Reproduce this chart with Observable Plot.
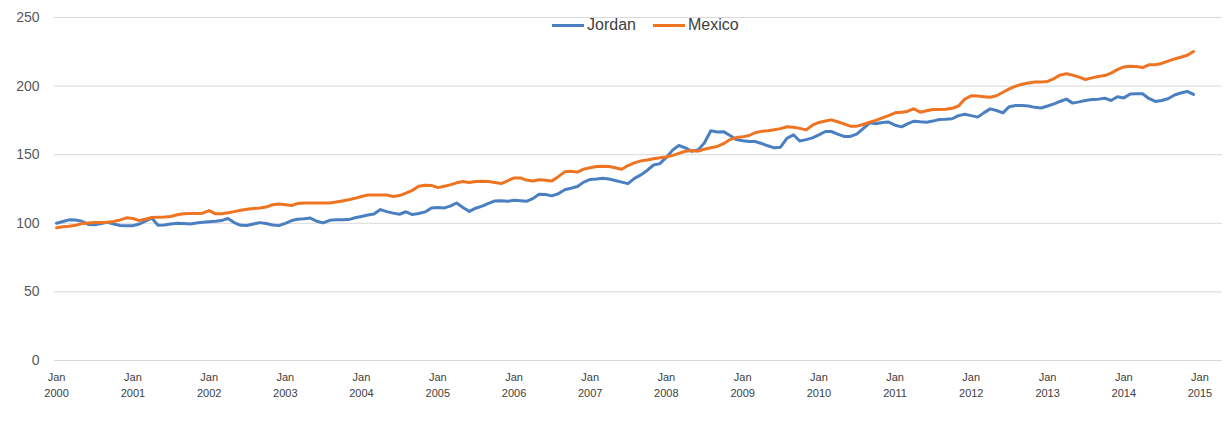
<!DOCTYPE html>
<html>
<head>
<meta charset="utf-8">
<script src="https://cdn.jsdelivr.net/npm/d3@7"></script>
<script src="https://cdn.jsdelivr.net/npm/@observablehq/plot@0.6"></script>
<style>
  html, body { margin: 0; padding: 0; background: #fff; }
  #wrap { position: relative; width: 1226px; height: 426px; font-family: "Liberation Sans", Arial, sans-serif; }
  #legend { position: absolute; top: 16px; left: 552px; display: flex; align-items: center; font-size: 16px; color: #404040; white-space: nowrap; }
  #legend .sw { display: inline-block; width: 32px; height: 3px; margin-right: 3px; }
  #legend .item { display: flex; align-items: center; margin-right: 17px; }
</style>
</head>
<body>
<div id="wrap"><div id="legend"></div></div>
<script>
// Series names and colours
const seriesNames = ["Jordan", "Mexico"];
const seriesColors = ["#4a80c2", "#ee7422"];

// Monthly values, Jan 2000 – Dec 2014
const jordan = [
  100, 101.3, 102.5, 102.4, 101.5, 99.2, 99, 99.8, 100.8, 99.5, 98.4, 98.2,
  98.3, 99.5, 101.5, 103.8, 98.6, 98.8, 99.5, 100, 99.8, 99.5, 100.2, 100.8,
  101.2, 101.5, 102, 103.5, 100.5, 98.5, 98.4, 99.5, 100.5, 99.8, 98.8, 98.3,
  100, 102, 103, 103.3, 103.8, 101.5, 100.3, 102.2, 102.5, 102.5, 102.7, 104,
  105, 106, 106.8, 110, 108.5, 107.4, 106.6, 108.4, 106.4, 107.2, 108.3, 111.2,
  111.6, 111.2, 112.5, 114.8, 111.5, 108.7, 111, 112.5, 114.5, 116.3, 116.5, 116,
  116.8, 116.5, 116, 118, 121.2, 121, 120, 121.5, 124.5, 125.5, 126.8, 130,
  132, 132.3, 132.9, 132.3, 131.2, 130, 128.9, 132.7, 135.3, 138.5, 142.5,
  143.5, 148, 153.5, 156.7, 155, 152.5, 153.5, 158.5, 167.5, 166.5, 166.8, 164,
  161, 160.2, 159.6, 159.6, 158.2, 156.5, 155, 155.5, 162, 164.5, 160, 161,
  162.3, 164.5, 166.9, 166.9, 165, 163.3, 163.3, 165, 169, 173.2, 172.5, 173.5,
  173.8, 171.5, 170.3, 172.5, 174.4, 174, 173.7, 174.5, 175.7, 175.8, 176.2, 178.5,
  179.5, 178.5, 177.4, 180.5, 183.4, 182.2, 180.5, 185, 185.9, 185.9, 185.5, 184.5,
  184, 185.5, 187, 188.8, 190.5, 187.6, 188.5, 189.5, 190.2, 190.5, 191.2, 189.5,
  192.2, 191.4, 194.2, 194.4, 194.4, 191, 188.8, 189.5, 190.8, 193.5, 195, 196.1, 193.9
];
const mexico = [
  96.7, 97.5, 97.9, 98.5, 99.8, 100.2, 100.5, 100.6, 100.8, 101.3, 102.5, 104,
  103.5, 102, 103, 104.2, 104.5, 104.6, 105, 106.2, 107, 107.2, 107.2, 107.4,
  109.3, 106.9, 107, 107.7, 108.5, 109.5, 110.3, 110.8, 111.2, 111.8, 113.5, 114.1,
  113.5, 113, 114.5, 114.8, 114.8, 114.8, 114.8, 114.8, 115.5, 116.3, 117.2, 118.2,
  119.5, 120.6, 120.6, 120.7, 120.6, 119.5, 120.2, 122, 124, 127, 127.8, 127.6,
  126, 127, 128, 129.5, 130.5, 129.7, 130.5, 130.7, 130.5, 129.8, 129, 131,
  133.1, 133.1, 131.5, 130.8, 131.8, 131.3, 130.8, 134, 137.5, 138, 137.3, 139.5,
  140.5, 141.4, 141.6, 141.4, 140.5, 139.4, 142.1, 144, 145.5, 146.2, 147,
  147.7, 148.3, 149.5, 151, 152.5, 153, 152.6, 154, 155, 156, 158, 161,
  162.5, 163, 164, 166, 167, 167.5, 168.2, 169, 170.4, 170, 169.2, 168.1,
  171.5, 173.5, 174.5, 175.4, 174, 172.5, 170.8, 170.8, 172, 173.7, 175, 176.8,
  178.5, 180.5, 181, 181.5, 183.5, 181, 182, 182.9, 183, 183.2, 183.8, 185.5,
  190.5, 193, 192.7, 192.3, 191.9, 193, 195.5, 198, 200, 201.3, 202.3, 203,
  203, 203.4, 205.5, 208, 209, 208, 206.5, 204.8, 206, 207, 207.7, 209.5,
  212, 214, 214.4, 214.3, 213.5, 215.5, 215.6, 216.5, 218.2, 219.8, 221, 222.5, 225.2
];

// Axis ticks
const yTicks = [0, 50, 100, 150, 200, 250];
const xTickYears = d3.range(2000, 2016);

const dates = jordan.map((_, i) => new Date(2000, i, 1));
const rows = [];
[jordan, mexico].forEach((vals, s) => {
  vals.forEach((v, i) => rows.push({ date: dates[i], value: v, series: seriesNames[s] }));
});

const chart = Plot.plot({
  width: 1226,
  height: 426,
  marginLeft: 54,
  marginRight: 4,
  marginTop: 17,
  marginBottom: 66,
  style: { fontFamily: "'Liberation Sans', Arial, sans-serif", background: "#fff", overflow: "visible" },
  x: { type: "time", domain: [new Date(1999, 11, 22), new Date(2015, 3, 19)] },
  y: { domain: [0, 250] },
  color: { domain: seriesNames, range: seriesColors },
  marks: [
    Plot.ruleY(yTicks, { stroke: "#d9d9d9", strokeWidth: 1 }),
    Plot.axisY({
      ticks: yTicks, tickSize: 0, tickPadding: 15, fontSize: 14, fill: "#595959", label: null,
      tickFormat: d => String(d)
    }),
    Plot.axisX({
      ticks: xTickYears.map(y => new Date(y, 0, 1)), tickSize: 0, tickPadding: 9,
      fontSize: 11, fill: "#404040", lineHeight: 1.45, label: null,
      tickFormat: d => "Jan\n" + d.getFullYear()
    }),
    Plot.line(rows, {
      x: "date", y: "value", z: "series", stroke: "series",
      strokeWidth: 3, strokeLinejoin: "round", strokeLinecap: "round"
    })
  ]
});
document.getElementById("wrap").prepend(chart);

const legend = document.getElementById("legend");
seriesNames.forEach((n, i) => {
  const item = document.createElement("span");
  item.className = "item";
  const sw = document.createElement("span");
  sw.className = "sw";
  sw.style.background = seriesColors[i];
  item.appendChild(sw);
  item.appendChild(document.createTextNode(n));
  legend.appendChild(item);
});
</script>
</body>
</html>
